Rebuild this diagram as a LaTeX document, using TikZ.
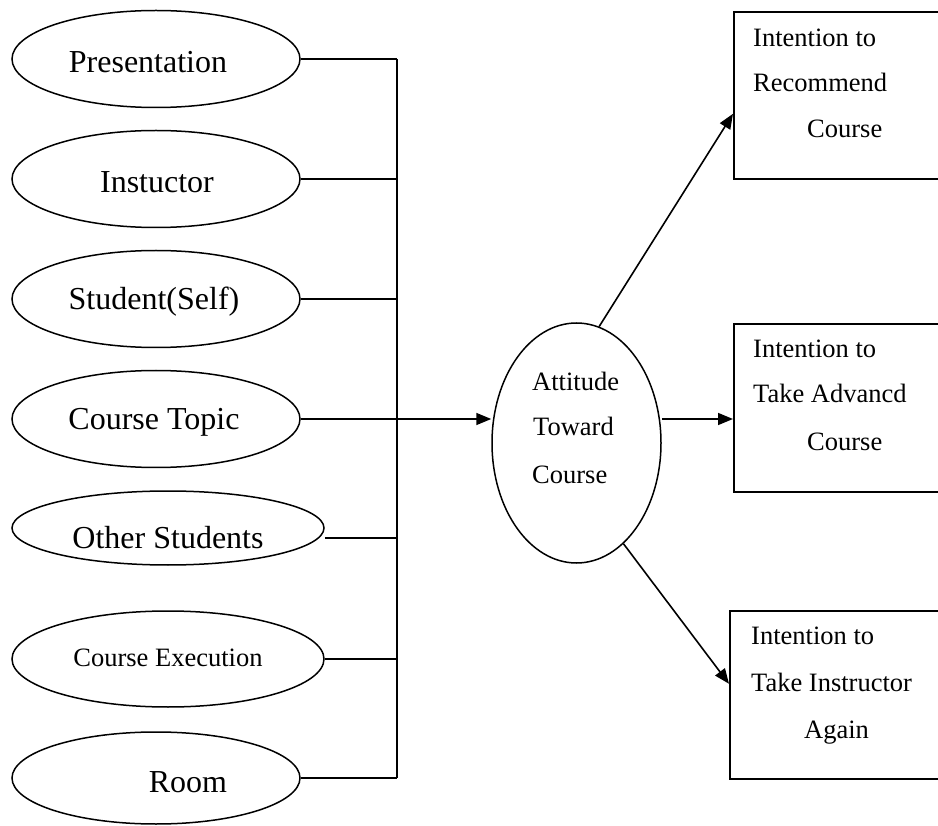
\documentclass[tikz,border=0pt]{standalone}
\usepackage{fontspec}
\setmainfont{Liberation Serif}
\usetikzlibrary{arrows.meta,shapes.geometric,calc}
\begin{document}
\begin{tikzpicture}[x=1pt,y=-1pt,
  oval/.style={draw, ellipse, line width=1.5pt, inner sep=0pt},
  bigtxt/.style={font=\fontsize{32}{38}\selectfont, inner sep=0pt},
  smtxt/.style={font=\fontsize{26.5}{32}\selectfont, inner sep=0pt},
  wire/.style={line width=1.6pt},
  arr/.style={line width=1.6pt, -{Triangle[length=15pt,width=12pt]}},
  boxr/.style={draw, line width=1.6pt, rectangle, anchor=north west, inner sep=0pt}]
\useasboundingbox (0,0) rectangle (938,826);
\clip (0,0) rectangle (938,826);
% left ellipses
\node[oval, minimum width=288pt, minimum height=97pt,
  label={[bigtxt,anchor=base,xshift=-8pt,yshift=-3pt]center:Presentation}] (P) at (156,59) {};
\node[oval, minimum width=288pt, minimum height=97pt,
  label={[bigtxt,anchor=base,xshift=1pt,yshift=-3pt]center:Instuctor}] (I) at (156,179) {};
\node[oval, minimum width=288pt, minimum height=97pt,
  label={[bigtxt,anchor=base,xshift=-2pt,yshift=-3pt]center:Student(Self)}] (S) at (156,299) {};
\node[oval, minimum width=288pt, minimum height=97pt,
  label={[bigtxt,anchor=base,xshift=-2pt,yshift=-3pt]center:Course Topic}] (CT) at (156,419) {};
\node[oval, minimum width=312pt, minimum height=74pt,
  label={[bigtxt,anchor=base,yshift=-10pt]center:Other Students}] (OS) at (168,528) {};
\node[oval, minimum width=312pt, minimum height=96pt,
  label={[smtxt,anchor=base,yshift=1pt]center:Course Execution}] (CE) at (168,659) {};
\node[oval, minimum width=288pt, minimum height=92pt,
  label={[bigtxt,anchor=base,xshift=32pt,yshift=-4pt]center:Room}] (R) at (156,778) {};
% bus
\coordinate (b1) at (397,59);
\coordinate (b7) at (397,778);
\coordinate (bO) at (397,538);
\draw[wire] (b1) -- (b7);
\draw[wire] (P.east) -- (P.east -| b1);
\draw[wire] (I.east) -- (I.east -| b1);
\draw[wire] (S.east) -- (S.east -| b1);
\draw[wire] (OS.east |- bO) -- (bO);
\draw[wire] (CE.east) -- (CE.east -| b1);
\draw[wire] (R.east) -- (R.east -| b1);
% attitude ellipse
\node[oval, minimum width=169pt, minimum height=240pt] (A) at (576.5,443) {};
\node[smtxt, anchor=base west] (a1) at (532,391) {Attitude};
\node[smtxt, anchor=base west] (a2) at (533,436) {Toward};
\node[smtxt, anchor=base west] (a3) at (532,483) {Course};
% boxes
\node[boxr, minimum width=260pt, minimum height=167pt] (r1) at (733,11) {};
\node[boxr, minimum width=260pt, minimum height=168pt] (r2) at (733,323) {};
\node[boxr, minimum width=260pt, minimum height=168pt] (r3) at (729,610) {};
\node[smtxt, anchor=base west] (t11) at (753,47) {Intention to};
\node[smtxt, anchor=base west] (t12) at (753,92) {Recommend};
\node[smtxt, anchor=base west] (t13) at (807,138) {Course};
\node[smtxt, anchor=base west] (t21) at (753,358) {Intention to};
\node[smtxt, anchor=base west] (t22) at (753,403) {Take Advancd};
\node[smtxt, anchor=base west] (t23) at (807,451) {Course};
\node[smtxt, anchor=base west] (t31) at (751,644) {Intention to};
\node[smtxt, anchor=base west] (t32) at (751,691) {Take Instructor};
\node[smtxt, anchor=base west] (t33) at (804,738) {Again};
% arrows
\draw[arr] (CT.east) -- (CT.east -| A.west);
\draw[arr] (A.79) -- ([yshift=-18.5pt]r1.west);
\draw[arr] (A.east |- CT.east) -- (r2.west |- CT.east);
\draw[arr] (A.-65) -- ([yshift=11pt]r3.west);
\end{tikzpicture}
\end{document}
